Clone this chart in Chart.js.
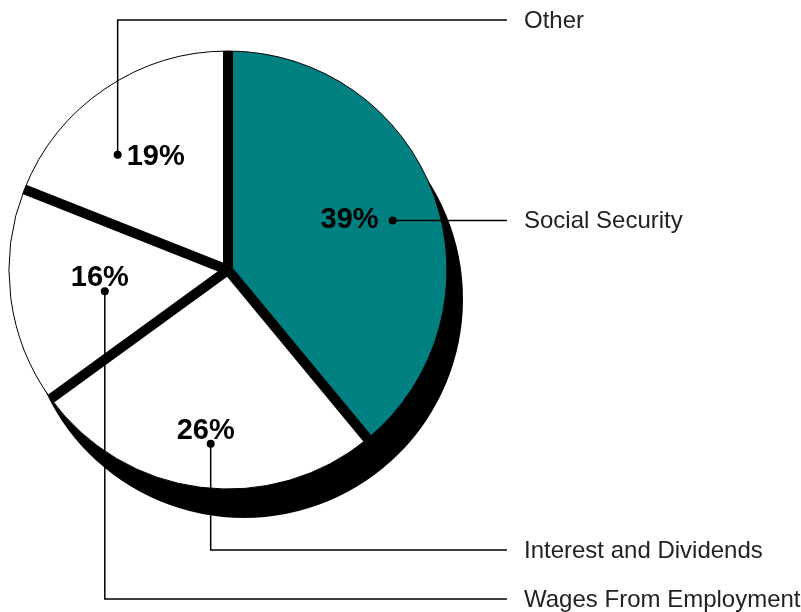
<!DOCTYPE html>
<html>
<head>
<meta charset="utf-8">
<script src="https://cdn.jsdelivr.net/npm/chart.js@4/dist/chart.umd.min.js"></script>
<style>
  body { margin: 0; background: #fff; }
  #wrap { width: 801px; height: 612px; }
</style>
</head>
<body>
<div id="wrap"><canvas id="incomeChart" width="801" height="612"></canvas></div>
<script>
  // Sources of income, clockwise from the top.
  const categories = ['Social Security', 'Interest and Dividends', 'Wages From Employment', 'Other'];
  const shares = [39, 26, 16, 19];
  const sliceColors = ['#008080', '#ffffff', '#ffffff', '#ffffff'];

  // Callout layout per slice: where the % sits (fraction of radius, small nudge),
  // where the dot goes, and the y of the label row on the right.
  const callouts = [
    {frac: 0.60, nx: -2, ny: -5, dot: 'right', rowY: null},
    {frac: 0.74, nx: -2, ny: 0, dot: 'below', rowY: 550},
    {frac: 0.59, nx: 0, ny: -8, dot: 'below', rowY: 599},
    {frac: 0.62, nx: 4, ny: -1, dot: 'left', rowY: 20}
  ];

  const lineEndX = 507;
  const labelX = 524;

  // Black drop shadow behind the pie.
  const shadowPlugin = {
    id: 'shadow',
    beforeDatasetsDraw(chart) {
      const arc = chart.getDatasetMeta(0).data[0];
      const ctx = chart.ctx;
      ctx.save();
      ctx.fillStyle = '#000';
      ctx.beginPath();
      ctx.arc(arc.x + 16, arc.y + 29, arc.outerRadius, 0, Math.PI * 2);
      ctx.fill();
      ctx.restore();
    }
  };

  // Thick black separators between slices, then % labels and leader lines.
  const calloutPlugin = {
    id: 'callouts',
    afterDatasetsDraw(chart) {
      const ctx = chart.ctx;
      const arcs = chart.getDatasetMeta(0).data;
      ctx.save();
      ctx.strokeStyle = '#000';
      ctx.lineWidth = 10;
      ctx.lineCap = 'butt';
      arcs.forEach(a => {
        ctx.beginPath();
        ctx.moveTo(a.x, a.y);
        ctx.lineTo(a.x + Math.cos(a.startAngle) * a.outerRadius, a.y + Math.sin(a.startAngle) * a.outerRadius);
        ctx.stroke();
      });

      arcs.forEach((a, i) => {
        const c = callouts[i];
        const mid = (a.startAngle + a.endAngle) / 2;
        const r = a.outerRadius * c.frac;
        const tx = a.x + Math.cos(mid) * r + c.nx;
        const ty = a.y + Math.sin(mid) * r + c.ny;
        const text = shares[i] + '%';

        ctx.font = 'bold 29px "Liberation Sans", Arial, sans-serif';
        ctx.fillStyle = '#000';
        ctx.textAlign = 'center';
        ctx.textBaseline = 'middle';
        ctx.fillText(text, tx, ty);
        const w = ctx.measureText(text).width;

        let dx, dy;
        if (c.dot === 'left') { dx = tx - w / 2 - 9; dy = ty - 2; }
        else if (c.dot === 'right') { dx = tx + w / 2 + 14; dy = ty; }
        else { dx = tx + 5; dy = ty + 13; }

        ctx.beginPath();
        ctx.arc(dx, dy, 4, 0, Math.PI * 2);
        ctx.fill();

        const rowY = c.rowY === null ? dy : c.rowY;
        ctx.lineWidth = 1.5;
        ctx.beginPath();
        ctx.moveTo(dx, dy);
        if (c.rowY !== null) ctx.lineTo(dx, rowY);
        ctx.lineTo(lineEndX, rowY);
        ctx.stroke();

        ctx.font = '24px "Liberation Sans", Arial, sans-serif';
        ctx.fillStyle = '#222';
        ctx.textAlign = 'left';
        ctx.fillText(categories[i], labelX, rowY + 1);
      });
      ctx.restore();
    }
  };

  new Chart('incomeChart', {
    type: 'pie',
    data: {
      labels: categories,
      datasets: [{
        data: shares,
        backgroundColor: sliceColors,
        borderColor: '#000',
        borderWidth: 1,
        radius: 219
      }]
    },
    options: {
      responsive: false,
      animation: false,
      layout: {padding: {left: 0, top: 0, right: 345, bottom: 72}},
      plugins: {legend: {display: false}, tooltip: {enabled: false}}
    },
    plugins: [shadowPlugin, calloutPlugin]
  });
</script>
</body>
</html>
